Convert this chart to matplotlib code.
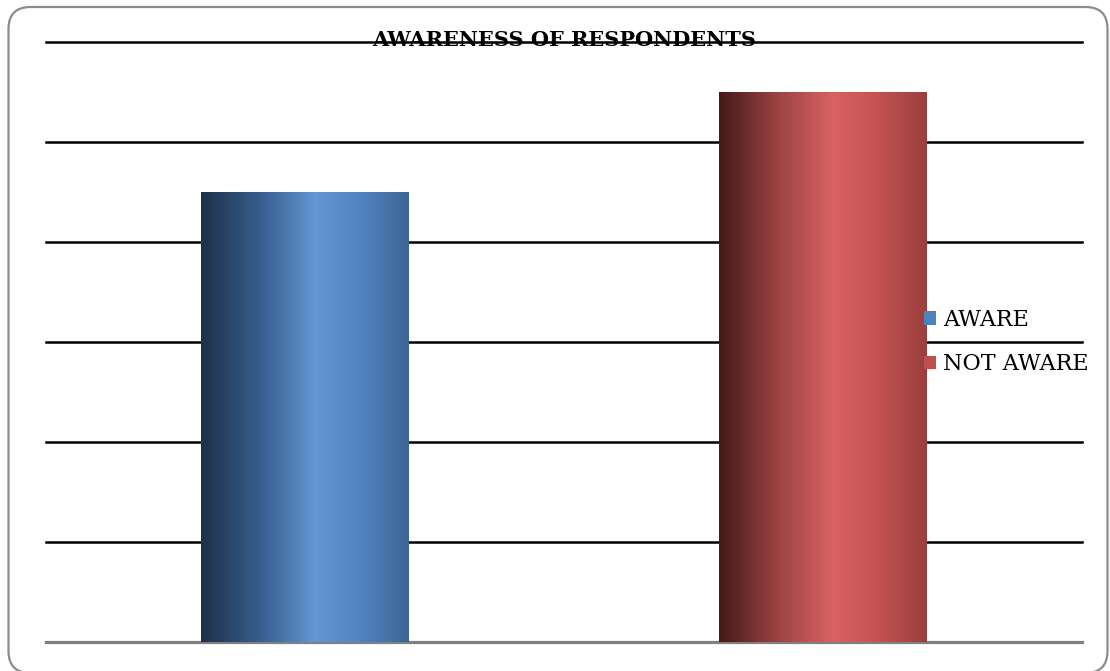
import numpy as np
import matplotlib
matplotlib.use("Agg")
import matplotlib.pyplot as plt
from matplotlib.colors import LinearSegmentedColormap
from matplotlib.patches import FancyBboxPatch, Rectangle, Patch

# survey counts
categories = ["AWARE", "NOT AWARE"]
values = [45, 55]
legend_colors = ["#4f81bd", "#c0504d"]

# horizontal shading for each bar: dark edge -> highlight -> mid
shades = [
    ["#1e3049", "#3a6192", "#6497d2", "#5485c4", "#3d6594"],
    ["#45191a", "#a04645", "#d96262", "#c65352", "#9b3f3e"],
]

plt.rcParams["font.family"] = ["DejaVu Serif"]

fig = plt.figure(figsize=(11.1, 6.71), dpi=100)
ax = fig.add_axes([46 / 1110, 1 - 642 / 671, 1036 / 1110, 600 / 671])

# rounded chart border (in inches)
border = FancyBboxPatch((0.085, -0.02), 10.99, 6.66,
                        boxstyle="round,pad=0,rounding_size=0.22",
                        transform=fig.dpi_scale_trans, facecolor="none",
                        edgecolor="#8c8c8c", linewidth=1.6)
fig.patches.append(border)

ax.set_xlim(-0.5, 1.5)
ax.set_ylim(0, 60)
for y in range(10, 61, 10):
    ax.axhline(y, color="black", linewidth=1.8, zorder=1, clip_on=False)
ax.axhline(0, color="#808080", linewidth=2.3, zorder=1, clip_on=False)

width = 0.4
grad = np.linspace(0, 1, 256).reshape(1, -1)
for i, (v, stops) in enumerate(zip(values, shades)):
    cmap = LinearSegmentedColormap.from_list("bar%d" % i,
                                             list(zip([0, 0.3, 0.55, 0.75, 1], stops)))
    x0 = i - width / 2
    rect = Rectangle((x0, 0), width, v, facecolor="none", edgecolor="none")
    ax.add_patch(rect)
    im = ax.imshow(grad, cmap=cmap, extent=(x0, x0 + width, 0, v),
                   aspect="auto", zorder=2, interpolation="bicubic")
    im.set_clip_path(rect)

ax.set_xlim(-0.5, 1.5)
ax.set_ylim(0, 60)
for s in ax.spines.values():
    s.set_visible(False)
ax.set_xticks([])
ax.set_yticks([])

ax.text(0.5, 60.15, "AWARENESS OF RESPONDENTS", fontsize=15, fontweight="bold",
        ha="center", va="center", zorder=3)

handles = [Patch(facecolor=c, edgecolor="none", label=l) for c, l in zip(legend_colors, categories)]
fig.legend(handles=handles, loc="center left", bbox_to_anchor=(924 / 1110, 1 - 342 / 671),
           frameon=False, fontsize=16, handlelength=0.55, handleheight=0.55,
           handletextpad=0.3, labelspacing=1.0, borderpad=0, borderaxespad=0)

fig.savefig("out.png", dpi=100, facecolor="white")
